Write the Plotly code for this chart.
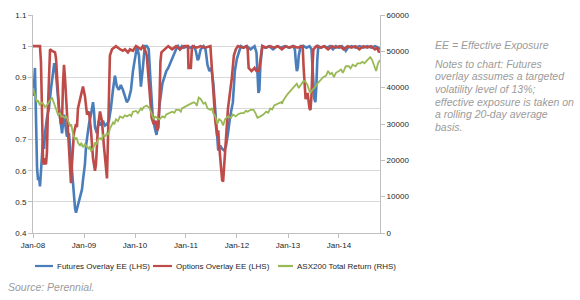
import plotly.graph_objects as go

# ---------------- data ----------------
futures_points = [
    ("2008-01-01", 0.84), ("2008-01-08", 0.87), ("2008-01-15", 0.93), ("2008-01-22", 0.76),
    ("2008-01-30", 0.61), ("2008-02-06", 0.57), ("2008-02-13", 0.58), ("2008-02-20", 0.55),
    ("2008-02-27", 0.60), ("2008-03-06", 0.66), ("2008-03-13", 0.70), ("2008-03-20", 0.67),
    ("2008-03-27", 0.72), ("2008-04-10", 0.77), ("2008-04-24", 0.80), ("2008-05-08", 0.86),
    ("2008-05-23", 0.91), ("2008-06-01", 0.945), ("2008-06-10", 0.93), ("2008-06-21", 0.87),
    ("2008-07-05", 0.80), ("2008-07-19", 0.75), ("2008-07-27", 0.72), ("2008-08-10", 0.78),
    ("2008-08-20", 0.75), ("2008-08-31", 0.71), ("2008-09-15", 0.72), ("2008-09-29", 0.64),
    ("2008-10-13", 0.55), ("2008-10-28", 0.48), ("2008-11-04", 0.465), ("2008-11-18", 0.49),
    ("2008-12-03", 0.52), ("2008-12-17", 0.54), ("2008-12-24", 0.57), ("2009-01-07", 0.62),
    ("2009-01-15", 0.68), ("2009-01-22", 0.71), ("2009-02-05", 0.75), ("2009-02-19", 0.78),
    ("2009-03-06", 0.82), ("2009-03-13", 0.79), ("2009-03-20", 0.74), ("2009-04-03", 0.72),
    ("2009-04-17", 0.76), ("2009-05-01", 0.745), ("2009-05-16", 0.76), ("2009-05-31", 0.745),
    ("2009-06-14", 0.75), ("2009-06-28", 0.76), ("2009-07-12", 0.80), ("2009-07-27", 0.86),
    ("2009-08-10", 0.905), ("2009-08-24", 0.87), ("2009-09-07", 0.86), ("2009-09-21", 0.875),
    ("2009-10-06", 0.86), ("2009-10-20", 0.84), ("2009-11-03", 0.82), ("2009-11-17", 0.83),
    ("2009-12-03", 0.86), ("2009-12-17", 0.92), ("2010-01-01", 0.96), ("2010-01-15", 1.0),
    ("2010-01-29", 0.97), ("2010-02-12", 0.87), ("2010-02-26", 0.93), ("2010-03-12", 1.0),
    ("2010-03-26", 1.0), ("2010-04-09", 0.99), ("2010-04-23", 0.88), ("2010-05-07", 0.78),
    ("2010-05-21", 0.74), ("2010-06-04", 0.715), ("2010-06-18", 0.76), ("2010-06-25", 0.81),
    ("2010-07-16", 0.88), ("2010-07-30", 0.90), ("2010-08-13", 0.92), ("2010-08-27", 0.93),
    ("2010-09-17", 0.955), ("2010-10-01", 0.97), ("2010-10-22", 0.99), ("2010-11-05", 1.0),
    ("2010-11-19", 0.99), ("2010-12-03", 1.0), ("2010-12-17", 0.995), ("2011-01-15", 1.0),
    ("2011-01-29", 0.995), ("2011-02-26", 1.0), ("2011-03-12", 0.985), ("2011-03-26", 0.955),
    ("2011-04-02", 0.96), ("2011-04-16", 0.99), ("2011-05-07", 1.0), ("2011-05-21", 0.99),
    ("2011-06-04", 0.94), ("2011-06-18", 0.92), ("2011-07-02", 0.93), ("2011-07-16", 0.88),
    ("2011-07-30", 0.78), ("2011-08-13", 0.69), ("2011-08-20", 0.665), ("2011-09-03", 0.68),
    ("2011-09-17", 0.67), ("2011-10-01", 0.665), ("2011-10-15", 0.68), ("2011-10-29", 0.72),
    ("2011-11-12", 0.77), ("2011-12-03", 0.82), ("2011-12-17", 0.92), ("2012-01-01", 0.96),
    ("2012-01-15", 0.98), ("2012-01-29", 1.0), ("2012-02-19", 0.995), ("2012-03-11", 1.0),
    ("2012-04-08", 0.99), ("2012-05-06", 1.0), ("2012-05-20", 0.98), ("2012-05-27", 0.91),
    ("2012-06-03", 0.85), ("2012-06-10", 0.86), ("2012-06-17", 0.94), ("2012-07-01", 1.0),
    ("2012-07-22", 0.995), ("2012-08-19", 1.0), ("2012-09-16", 0.99), ("2012-10-14", 1.0),
    ("2012-11-11", 0.995), ("2012-12-09", 1.0), ("2013-01-06", 0.995), ("2013-02-05", 1.0),
    ("2013-02-19", 0.99), ("2013-02-26", 0.95), ("2013-03-05", 0.92), ("2013-03-12", 0.93),
    ("2013-03-19", 0.97), ("2013-04-02", 1.0), ("2013-04-23", 1.0), ("2013-05-14", 0.995),
    ("2013-06-04", 1.0), ("2013-06-18", 0.99), ("2013-06-25", 0.93), ("2013-07-02", 0.86),
    ("2013-07-09", 0.83), ("2013-07-16", 0.82), ("2013-07-23", 0.87), ("2013-07-30", 0.96),
    ("2013-08-06", 1.0), ("2013-08-27", 0.995), ("2013-09-17", 1.0), ("2013-10-08", 0.995),
    ("2013-10-29", 1.0), ("2013-11-19", 0.99), ("2013-12-10", 1.0), ("2014-01-01", 0.995),
    ("2014-01-22", 1.0), ("2014-02-12", 0.99), ("2014-02-19", 0.985), ("2014-03-05", 0.995),
    ("2014-04-02", 1.0), ("2014-04-30", 0.995), ("2014-05-28", 1.0), ("2014-06-25", 0.995),
    ("2014-07-23", 1.0), ("2014-08-20", 0.995), ("2014-09-17", 1.0), ("2014-10-08", 0.995),
    ("2014-10-22", 0.99),
]

options_points = [
    ("2008-01-01", 1.0), ("2008-02-20", 1.0), ("2008-02-27", 0.95), ("2008-03-06", 0.75),
    ("2008-03-13", 0.63), ("2008-03-20", 0.62), ("2008-03-27", 0.64), ("2008-04-03", 0.62),
    ("2008-04-10", 0.66), ("2008-04-17", 0.80), ("2008-04-24", 0.93), ("2008-05-02", 0.99),
    ("2008-05-16", 0.985), ("2008-06-07", 0.98), ("2008-06-14", 0.96), ("2008-06-21", 0.90),
    ("2008-07-05", 0.80), ("2008-07-19", 0.75), ("2008-07-27", 0.76), ("2008-08-03", 0.88),
    ("2008-08-10", 0.94), ("2008-08-17", 0.90), ("2008-08-31", 0.78), ("2008-09-08", 0.70),
    ("2008-09-22", 0.60), ("2008-09-29", 0.56), ("2008-10-06", 0.62), ("2008-10-20", 0.72),
    ("2008-11-04", 0.75), ("2008-11-11", 0.74), ("2008-11-18", 0.80), ("2008-12-03", 0.83),
    ("2008-12-17", 0.86), ("2008-12-24", 0.87), ("2009-01-07", 0.84), ("2009-01-15", 0.80),
    ("2009-01-22", 0.78), ("2009-02-05", 0.79), ("2009-02-19", 0.73), ("2009-03-06", 0.64),
    ("2009-03-20", 0.60), ("2009-03-27", 0.62), ("2009-04-10", 0.74), ("2009-04-25", 0.79),
    ("2009-05-09", 0.76), ("2009-05-23", 0.68), ("2009-06-07", 0.60), ("2009-06-14", 0.575),
    ("2009-06-21", 0.70), ("2009-06-28", 0.90), ("2009-07-05", 0.97), ("2009-07-20", 0.99),
    ("2009-08-17", 1.0), ("2009-09-15", 0.99), ("2009-10-06", 0.985), ("2009-10-21", 0.99),
    ("2009-11-11", 0.98), ("2009-11-26", 0.99), ("2009-12-17", 0.985), ("2010-01-08", 1.0),
    ("2010-02-12", 0.99), ("2010-02-26", 1.0), ("2010-03-12", 0.99), ("2010-03-26", 0.97),
    ("2010-04-16", 0.86), ("2010-04-30", 0.77), ("2010-05-14", 0.75), ("2010-05-28", 0.76),
    ("2010-06-11", 0.73), ("2010-06-18", 0.74), ("2010-06-25", 0.82), ("2010-07-02", 0.95),
    ("2010-07-09", 0.98), ("2010-07-30", 0.99), ("2010-08-27", 1.0), ("2010-09-24", 0.99),
    ("2010-10-22", 1.0), ("2010-11-19", 0.99), ("2010-12-17", 1.0), ("2011-01-15", 1.0),
    ("2011-01-19", 0.93), ("2011-02-05", 0.93), ("2011-02-12", 0.99), ("2011-02-19", 1.0),
    ("2011-03-19", 0.995), ("2011-04-16", 1.0), ("2011-05-14", 0.995), ("2011-06-25", 1.0),
    ("2011-07-16", 0.85), ("2011-07-30", 0.76), ("2011-08-13", 0.71), ("2011-08-20", 0.73),
    ("2011-08-27", 0.68), ("2011-09-10", 0.62), ("2011-09-17", 0.57), ("2011-09-24", 0.565),
    ("2011-10-01", 0.62), ("2011-10-15", 0.72), ("2011-10-29", 0.80), ("2011-11-12", 0.85),
    ("2011-11-26", 0.90), ("2011-12-10", 0.97), ("2011-12-24", 0.99), ("2012-01-08", 1.0),
    ("2012-02-12", 0.995), ("2012-03-11", 1.0), ("2012-03-18", 0.99), ("2012-03-25", 0.93),
    ("2012-04-15", 0.92), ("2012-05-06", 0.93), ("2012-05-20", 0.92), ("2012-06-03", 0.92),
    ("2012-06-10", 0.93), ("2012-06-24", 0.98), ("2012-07-01", 1.0), ("2012-07-29", 0.995),
    ("2012-08-26", 1.0), ("2012-09-23", 0.995), ("2012-10-21", 1.0), ("2012-11-18", 0.99),
    ("2012-12-16", 1.0), ("2013-01-13", 0.995), ("2013-02-10", 1.0), ("2013-03-10", 0.995),
    ("2013-04-16", 1.0), ("2013-04-23", 0.93), ("2013-04-30", 0.86), ("2013-05-07", 0.83),
    ("2013-05-21", 0.85), ("2013-05-28", 0.81), ("2013-06-04", 0.80), ("2013-06-11", 0.795),
    ("2013-06-18", 0.84), ("2013-06-25", 0.93), ("2013-07-02", 0.99), ("2013-07-23", 1.0),
    ("2013-08-20", 0.995), ("2013-09-17", 1.0), ("2013-10-15", 0.99), ("2013-11-12", 1.0),
    ("2013-12-10", 0.995), ("2014-01-07", 1.0), ("2014-02-04", 0.99), ("2014-03-04", 1.0),
    ("2014-04-01", 0.995), ("2014-04-29", 1.0), ("2014-05-27", 0.99), ("2014-06-24", 1.0),
    ("2014-07-22", 0.995), ("2014-08-19", 1.0), ("2014-09-16", 0.99), ("2014-10-01", 0.995),
    ("2014-10-15", 0.98), ("2014-10-22", 0.985),
]

asx200_points = [
    ("2008-01-01", 39900), ("2008-01-08", 39000), ("2008-01-15", 38600), ("2008-01-22", 37200),
    ("2008-01-30", 36000), ("2008-02-06", 36500), ("2008-02-20", 35100), ("2008-03-01", 35900),
    ("2008-03-13", 35600), ("2008-03-27", 34700), ("2008-04-10", 35100), ("2008-04-20", 35800),
    ("2008-05-02", 36400), ("2008-05-16", 37300), ("2008-05-26", 36200), ("2008-06-07", 35100),
    ("2008-06-21", 33400), ("2008-06-28", 32600), ("2008-07-12", 33000), ("2008-07-22", 32000),
    ("2008-08-03", 32100), ("2008-08-17", 31700), ("2008-08-27", 32200), ("2008-09-08", 30900),
    ("2008-09-22", 29600), ("2008-10-01", 29900), ("2008-10-13", 27400), ("2008-10-28", 25700),
    ("2008-11-08", 26300), ("2008-11-18", 24900), ("2008-12-03", 24000), ("2008-12-12", 24800),
    ("2008-12-24", 23600), ("2009-01-07", 24400), ("2009-01-22", 23600), ("2009-02-05", 23100),
    ("2009-02-12", 23900), ("2009-02-19", 22700), ("2009-03-06", 23100), ("2009-03-20", 24900),
    ("2009-03-30", 24300), ("2009-04-10", 25700), ("2009-04-25", 26100), ("2009-05-08", 25600),
    ("2009-05-16", 27000), ("2009-05-31", 26600), ("2009-06-14", 27400), ("2009-06-24", 27000),
    ("2009-07-05", 28700), ("2009-07-27", 30400), ("2009-08-05", 29900), ("2009-08-17", 31300),
    ("2009-09-01", 30800), ("2009-09-15", 32100), ("2009-10-06", 31700), ("2009-10-20", 32400),
    ("2009-11-04", 32100), ("2009-11-26", 32600), ("2009-12-05", 32200), ("2009-12-17", 33400),
    ("2010-01-08", 33600), ("2010-01-22", 33000), ("2010-02-12", 34300), ("2010-02-20", 33900),
    ("2010-03-05", 34700), ("2010-03-26", 35100), ("2010-04-16", 34300), ("2010-04-30", 32600),
    ("2010-05-14", 31300), ("2010-05-25", 32000), ("2010-06-04", 31700), ("2010-06-25", 31300),
    ("2010-07-16", 32100), ("2010-08-01", 31800), ("2010-08-13", 32600), ("2010-09-03", 33000),
    ("2010-09-24", 33400), ("2010-10-10", 33100), ("2010-10-22", 33900), ("2010-11-12", 33900),
    ("2010-11-25", 33400), ("2010-12-03", 34300), ("2010-12-20", 34700), ("2011-01-15", 35100),
    ("2011-02-05", 35600), ("2011-02-26", 36000), ("2011-03-12", 35600), ("2011-03-20", 35000),
    ("2011-04-02", 37300), ("2011-04-16", 36900), ("2011-04-26", 36300), ("2011-05-07", 35600),
    ("2011-05-20", 35900), ("2011-06-04", 34300), ("2011-06-25", 33900), ("2011-07-05", 34400),
    ("2011-07-16", 33000), ("2011-07-30", 32100), ("2011-08-13", 30000), ("2011-08-27", 31300),
    ("2011-09-10", 30900), ("2011-09-24", 29600), ("2011-10-08", 31300), ("2011-10-29", 32100),
    ("2011-11-19", 31700), ("2011-12-03", 32600), ("2011-12-24", 32100), ("2012-01-10", 32700),
    ("2012-01-29", 33000), ("2012-02-19", 33000), ("2012-03-05", 33600), ("2012-03-18", 33400),
    ("2012-04-08", 33900), ("2012-04-29", 33900), ("2012-05-13", 33000), ("2012-05-27", 31700),
    ("2012-06-17", 32100), ("2012-07-08", 32600), ("2012-07-29", 33400), ("2012-08-12", 33100),
    ("2012-08-27", 34300), ("2012-09-10", 34000), ("2012-09-24", 35100), ("2012-10-23", 35600),
    ("2012-11-13", 36000), ("2012-11-20", 35600), ("2012-11-27", 36400), ("2012-12-26", 38100),
    ("2013-01-22", 39400), ("2013-02-05", 39900), ("2013-02-19", 40700), ("2013-03-05", 41100),
    ("2013-03-19", 39900), ("2013-04-09", 41100), ("2013-04-23", 41900), ("2013-05-07", 41600),
    ("2013-05-21", 40700), ("2013-06-04", 39000), ("2013-06-11", 38600), ("2013-06-25", 39400),
    ("2013-07-09", 39900), ("2013-07-30", 41100), ("2013-08-20", 41900), ("2013-09-10", 42900),
    ("2013-10-01", 43300), ("2013-10-15", 44600), ("2013-10-29", 43700), ("2013-11-12", 44100),
    ("2013-11-26", 42900), ("2013-12-10", 44100), ("2014-01-01", 44600), ("2014-01-15", 45000),
    ("2014-01-29", 44100), ("2014-02-19", 45900), ("2014-03-12", 45900), ("2014-03-25", 45300),
    ("2014-04-09", 46300), ("2014-04-30", 45900), ("2014-05-14", 46700), ("2014-06-04", 46700),
    ("2014-06-18", 47100), ("2014-07-02", 46700), ("2014-07-23", 47600), ("2014-08-13", 48400),
    ("2014-08-27", 47600), ("2014-09-10", 45900), ("2014-09-24", 44600), ("2014-10-08", 46700),
    ("2014-10-22", 47600),
]

series_names = ["Futures Overlay EE (LHS)", "Options Overlay EE (LHS)", "ASX200 Total Return (RHS)"]
series_colors = ["#4A7EBB", "#BE4B48", "#98B954"]
x_tick_dates = ["2008-01-01", "2009-01-01", "2010-01-01", "2011-01-01",
                "2012-01-01", "2013-01-01", "2014-01-01"]
x_tick_labels = ["Jan-08", "Jan-09", "Jan-10", "Jan-11", "Jan-12", "Jan-13", "Jan-14"]
note_lines = ["Notes to chart: Futures", "overlay assumes a targeted", "volatility level of 13%;",
              "effective exposure is taken on", "a rolling 20-day average", "basis."]

# ---------------- figure ----------------
TICK_FONT = dict(family="Liberation Sans, Arial, sans-serif", size=8, color="#262626")
AXIS_GREY = "#BFBFBF"
GRID_GREY = "#D9D9D9"
NOTE_GREY = "#9B9B9B"

fig = go.Figure()
fig.add_trace(go.Scatter(
    x=[d for d, _ in futures_points], y=[v for _, v in futures_points],
    mode="lines", name=series_names[0], line=dict(color=series_colors[0], width=2.6),
    yaxis="y", showlegend=False))
fig.add_trace(go.Scatter(
    x=[d for d, _ in options_points], y=[v for _, v in options_points],
    mode="lines", name=series_names[1], line=dict(color=series_colors[1], width=2.6),
    yaxis="y", showlegend=False))
fig.add_trace(go.Scatter(
    x=[d for d, _ in asx200_points], y=[v for _, v in asx200_points],
    mode="lines", name=series_names[2], line=dict(color=series_colors[2], width=1.8),
    yaxis="y2", showlegend=False))

# plot-area geometry in pixels (for paper-coordinate helpers)
L, R, T, B = 33, 380, 15, 233
W, H = 580, 300


def px(xp):
    return (xp - L) / (R - L)


def py(yp):
    return (B - yp) / (B - T)


shapes = []
annotations = []
# manual legend (short line samples like the original)
legend_items = [(35, 53, 55), (153, 172, 174), (278, 293, 295)]
for (x0, x1, xt), name, col in zip(legend_items, series_names, series_colors):
    shapes.append(dict(type="line", xref="paper", yref="paper",
                       x0=px(x0), x1=px(x1), y0=py(266), y1=py(266),
                       line=dict(color=col, width=2.2)))
    annotations.append(dict(text=name, xref="paper", yref="paper", x=px(xt), y=py(266),
                            xanchor="left", yanchor="middle", showarrow=False,
                            font=dict(family="Liberation Sans, Arial, sans-serif", size=8,
                                      color="#262626")))

NOTE_FONT = dict(family="Liberation Sans, Arial, sans-serif", size=10.5, color=NOTE_GREY)
annotations.append(dict(text="<i>EE = Effective Exposure</i>", xref="paper", yref="paper",
                        x=px(433), y=py(45), xanchor="left", yanchor="middle",
                        showarrow=False, font=NOTE_FONT))
for i, line in enumerate(note_lines):
    annotations.append(dict(text="<i>" + line + "</i>", xref="paper", yref="paper",
                            x=px(433), y=py(63.5 + 12.7 * i), xanchor="left", yanchor="middle",
                            showarrow=False, font=NOTE_FONT))
annotations.append(dict(text="<i>Source: Perennial.</i>", xref="paper", yref="paper",
                        x=px(6), y=py(287), xanchor="left", yanchor="middle",
                        showarrow=False, font=NOTE_FONT))

fig.update_layout(
    width=W, height=H,
    margin=dict(l=L, r=W - R, t=T, b=H - B),
    paper_bgcolor="white", plot_bgcolor="white",
    showlegend=False,
    xaxis=dict(type="date", range=["2008-01-01", "2014-10-22"],
               tickmode="array", tickvals=x_tick_dates, ticktext=x_tick_labels,
               showgrid=False, zeroline=False, showline=True, linecolor=AXIS_GREY, linewidth=1,
               ticks="outside", ticklen=4, tickcolor=AXIS_GREY, tickfont=TICK_FONT),
    yaxis=dict(range=[0.4, 1.1], tick0=0.4, dtick=0.1, showgrid=True, gridcolor=GRID_GREY,
               gridwidth=1, zeroline=False, showline=True, linecolor=AXIS_GREY, linewidth=1,
               ticks="outside", ticklen=4, tickcolor=AXIS_GREY, tickfont=TICK_FONT),
    yaxis2=dict(range=[0, 60000], dtick=10000, overlaying="y", side="right",
                tickformat="d", showgrid=False, zeroline=False, showline=True,
                linecolor=AXIS_GREY, linewidth=1, ticks="outside", ticklen=4,
                tickcolor=AXIS_GREY, tickfont=TICK_FONT),
    shapes=shapes, annotations=annotations,
)

fig.write_html("out.html")
